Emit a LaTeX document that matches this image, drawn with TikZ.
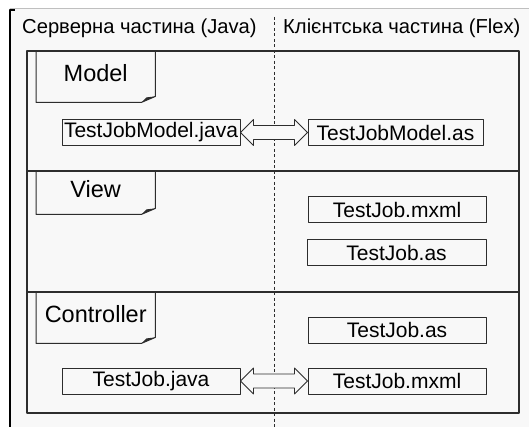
\documentclass[tikz,border=0pt]{standalone}
\usepackage{fontspec}
\setmainfont{Liberation Sans}
\usetikzlibrary{calc}
\definecolor{bggray}{RGB}{248,248,248}
\definecolor{linegray}{RGB}{45,45,45}

\begin{document}
\begin{tikzpicture}[x=1pt,y=-1pt,line cap=round,line join=round,
  txt/.style={font=\fontsize{21}{25}\selectfont},
  filebox/.style={txt,draw=linegray,line width=1pt,minimum width=178,minimum height=26,inner sep=1pt},
  notebox/.style={font=\fontsize{23.5}{27}\selectfont,minimum width=119,inner sep=0pt,text height=17,text depth=8,anchor=north west},
  headtxt/.style={font=\fontsize{20.2}{24}\selectfont,anchor=west,inner sep=0pt},
  blockarrow/.style={draw=linegray,line width=0.8pt,fill=bggray}]
\useasboundingbox (0,0) rectangle (529,427);
\fill[white] (0,0) rectangle (529,427);
\fill[bggray] (10,8) rectangle (529,427);
\draw[black!25] (10,8) -- (529,8);
\draw[line width=1.5pt,line cap=butt] (15,10) -- (10,10) -- (10,427);
% headers
\node[headtxt] (srv) at (22,28) {Серверна частина (Java)};
\node[headtxt] (cli) at (283,28) {Клієнтська частина (Flex)};
% layers
\draw[linegray,line width=1.2pt] (27,51) rectangle (519,413);
\draw[linegray,line width=1.2pt] (27,171) -- (519,171);
\draw[linegray,line width=1.2pt] (27,292) -- (519,292);
\draw[linegray,line width=1pt,dash pattern=on 3pt off 2.5pt,line cap=butt] (274,17) -- (274,427);
% notes
\node[notebox,minimum height=51] (model) at (36,51) {Model};
\node[notebox,minimum height=43] (view) at (36,171) {View};
\node[notebox,minimum height=51] (ctrl) at (36,292) {Controller};
\foreach \n in {model,view,ctrl}{
  \draw[linegray,line width=1pt] (\n.north west) -- (\n.north east) -- ($(\n.south east)+(0,-6)$) -- ($(\n.south east)+(-14,0)$) -- (\n.south west) -- cycle;
  \fill[linegray] ($(\n.south east)+(-14,0)$) -- ($(\n.south east)+(-9,-5)$) -- ($(\n.south east)+(0,-6)$) -- cycle;
}
% files
\node[filebox] (MJ) at (151,132.5) {TestJobModel.java};
\node[filebox,minimum width=175] (MA) at (395.5,132.5) {TestJobModel.as};
\node[filebox] (VM) at (397,210) {TestJob.mxml};
\node[filebox,minimum width=179] (VA) at (396.5,252.5) {TestJob.as};
\node[filebox] (CA) at (397,330) {TestJob.as};
\node[filebox] (CM) at (397,381) {TestJob.mxml};
\node[filebox] (CJ) at (151,381) {TestJob.java};
% links
\foreach \a/\b in {MJ/MA,CJ/CM}{
  \draw[blockarrow] (\a.east) -- ($(\a.east)+(13,-13)$) -- ($(\a.east)+(13,-7)$) -- ($(\b.west)+(-13,-7)$) -- ($(\b.west)+(-13,-13)$) -- (\b.west)
    -- ($(\b.west)+(-13,13)$) -- ($(\b.west)+(-13,7)$) -- ($(\a.east)+(13,7)$) -- ($(\a.east)+(13,13)$) -- cycle;
}
\end{tikzpicture}
\end{document}
